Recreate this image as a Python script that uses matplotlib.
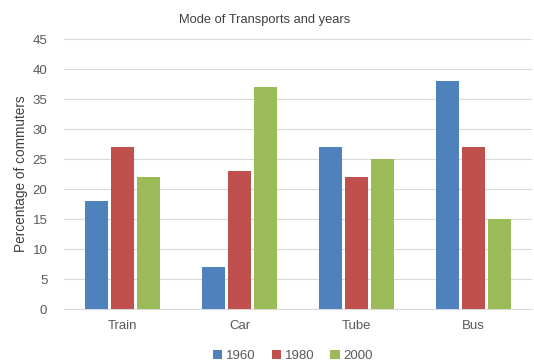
import matplotlib
matplotlib.use("Agg")
import matplotlib.pyplot as plt
import numpy as np

categories = ["Train", "Car", "Tube", "Bus"]
years = ["1960", "1980", "2000"]
v1960 = [18, 7, 27, 38]
v1980 = [27, 23, 22, 27]
v2000 = [22, 37, 25, 15]
colors = ["#4F81BD", "#C0504D", "#9BBB59"]

plt.rcParams['font.family'] = ['Liberation Sans', 'DejaVu Sans']

fig = plt.figure(figsize=(5.34, 3.64), dpi=100)
ax = fig.add_axes([64/534, 1-309/364, (532-64)/534, (309-39)/364])

x = np.arange(len(categories))
w = 0.197
gap = 0.026
series = [v1960, v1980, v2000]
for i, (vals, c, lab) in enumerate(zip(series, colors, years)):
    ax.bar(x + (i-1)*(w+gap), vals, width=w, color=c, label=lab, zorder=3)

ax.set_xlim(-0.5, len(categories)-0.5)
ax.set_ylim(0, 45)
ax.set_yticks(range(0, 46, 5))
ax.set_xticks(x)
ax.set_xticklabels(categories)
ax.yaxis.grid(True, color="#D9D9D9", linewidth=0.8, zorder=0)
for s in ["top", "right", "left"]:
    ax.spines[s].set_visible(False)
ax.spines["bottom"].set_color("#D9D9D9")
ax.tick_params(axis="both", length=0, colors="#595959", labelsize=9.5)
ax.tick_params(axis="y", pad=12)
ax.tick_params(axis="x", pad=8)
ax.set_ylabel("Percentage of commuters", fontsize=9.8, color="#404040", labelpad=3)
fig.text(265/534, 1-20/364, "Mode of Transports and years", ha="center", va="center",
         fontsize=9.3, color="#404040")
fig.legend(loc="center", bbox_to_anchor=(293/534, 1-356/364), ncol=3, frameon=False,
           fontsize=9.5, handlelength=0.7, handleheight=0.7, handletextpad=0.3,
           columnspacing=1.2, labelcolor="#595959")
fig.savefig("out.png", dpi=100)
